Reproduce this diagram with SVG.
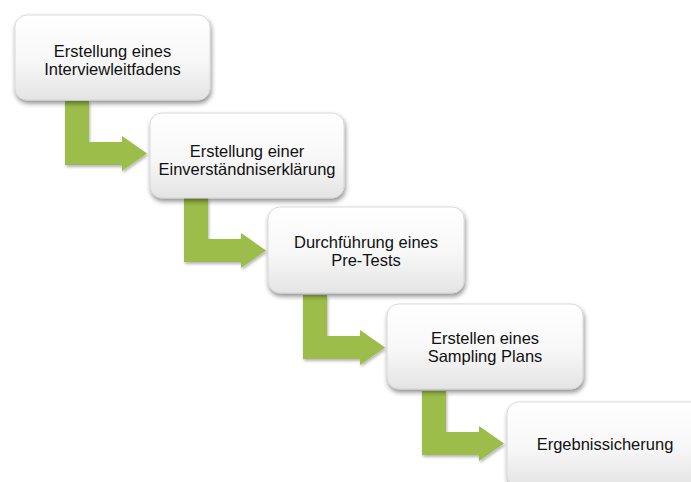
<svg xmlns="http://www.w3.org/2000/svg" width="691" height="482" viewBox="0 0 691 482">
  <defs>
    <linearGradient id="boxFill" x1="0" y1="0" x2="0" y2="1">
      <stop offset="0" stop-color="#ffffff"/>
      <stop offset="0.55" stop-color="#f7f7f7"/>
      <stop offset="1" stop-color="#e4e4e4"/>
    </linearGradient>
    <filter id="boxShadow" x="-10%" y="-10%" width="125%" height="135%">
      <feGaussianBlur in="SourceAlpha" stdDeviation="2.5"/>
      <feOffset dx="1" dy="3" result="b"/>
      <feComponentTransfer><feFuncA type="linear" slope="0.45"/></feComponentTransfer>
      <feMerge><feMergeNode/><feMergeNode in="SourceGraphic"/></feMerge>
    </filter>
    <filter id="arrowShadow" x="-20%" y="-20%" width="150%" height="150%">
      <feGaussianBlur in="SourceAlpha" stdDeviation="1.5"/>
      <feOffset dx="1" dy="2" result="b"/>
      <feComponentTransfer><feFuncA type="linear" slope="0.3"/></feComponentTransfer>
      <feMerge><feMergeNode/><feMergeNode in="SourceGraphic"/></feMerge>
    </filter>
    <!-- bent arrow: down from a box, then right into the next one -->
    <path id="bentArrow" d="M0,0 H24 V41 H57 V35 L82,52.5 L57,70 V64 H0 Z"/>
  </defs>
  <style>
    .box { fill: url(#boxFill); stroke: #d2d2d2; stroke-width: 0.8; filter: url(#boxShadow); }
    .label { font-family: "Liberation Sans", Arial, sans-serif; font-size: 16.5px; fill: #111111; text-anchor: middle; }
    .arrow { fill: #9cbd4a; filter: url(#arrowShadow); }
  </style>

  <!-- connectors -->
  <g id="connectors">
    <use href="#bentArrow" class="arrow" x="65" y="101"/>
    <use href="#bentArrow" class="arrow" x="184" y="198"/>
    <use href="#bentArrow" class="arrow" x="303" y="295"/>
    <use href="#bentArrow" class="arrow" x="422" y="391"/>
  </g>

  <g id="step1">
    <rect class="box" x="15" y="15" width="195" height="85" rx="12"/>
    <text class="label" x="112.5" y="57">Erstellung eines</text>
    <text class="label" x="112.5" y="75">Interviewleitfadens</text>
  </g>

  <g id="step2">
    <rect class="box" x="150" y="113" width="194" height="85" rx="12"/>
    <text class="label" x="247" y="157">Erstellung einer</text>
    <text class="label" x="247" y="175">Einverständniserklärung</text>
  </g>

  <g id="step3">
    <rect class="box" x="268" y="207" width="196" height="86" rx="12"/>
    <text class="label" x="366" y="248">Durchführung eines</text>
    <text class="label" x="366" y="266">Pre-Tests</text>
  </g>

  <g id="step4">
    <rect class="box" x="387" y="304" width="196" height="85" rx="12"/>
    <text class="label" x="485" y="344">Erstellen eines</text>
    <text class="label" x="485" y="362">Sampling Plans</text>
  </g>

  <g id="step5">
    <rect class="box" x="507" y="402" width="196" height="85" rx="12"/>
    <text class="label" x="605" y="450">Ergebnissicherung</text>
  </g>
</svg>
